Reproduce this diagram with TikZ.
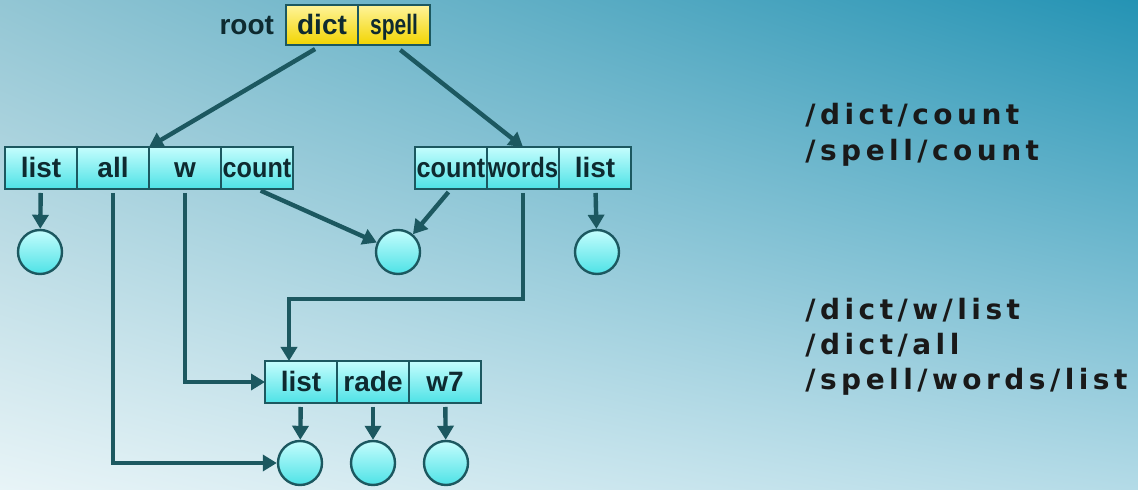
\documentclass[tikz,border=0pt]{standalone}
\usepackage{fontspec}
\usepackage{graphicx}
\setmainfont{Liberation Sans}
\newfontfamily\pathfont[LetterSpace=16]{DejaVu Sans}
\usetikzlibrary{positioning,arrows.meta,shadings}
\definecolor{ink}{HTML}{0E2A30}
\definecolor{edge}{HTML}{1C5860}
\definecolor{cyanhi}{HTML}{C4FDFD}
\definecolor{cyanlo}{HTML}{4EE2E6}
\definecolor{yelhi}{HTML}{FFF49A}
\definecolor{yello}{HTML}{F2D400}
\definecolor{bgul}{HTML}{93C6D4}
\definecolor{bgur}{HTML}{2493B4}
\definecolor{bgll}{HTML}{E8F4F7}
\definecolor{bglr}{HTML}{B4DBE7}
\newcommand{\narrow}[2]{\scalebox{#1}[1]{#2}}
\tikzset{
label/.style={text=ink,inner sep=0pt,outer sep=0pt,text height=11pt,text depth=1pt,
  font=\fontsize{14}{14}\selectfont\bfseries},
cell/.style={label,draw=edge,line width=1.2pt,minimum width=36pt,minimum height=21pt,
  top color=cyanhi,bottom color=cyanlo},
keycell/.style={cell,top color=yelhi,bottom color=yello,minimum height=20pt},
leaf/.style={circle,draw=edge,line width=1.2pt,minimum size=22pt,inner sep=0pt,top color=cyanhi,bottom color=cyanlo},
arr/.style={edge,line width=2.2pt,-{Triangle[width=8pt,length=7pt]},shorten <=2pt},
pathtxt/.style={anchor=base west,inner sep=0pt,text=black!90,font=\pathfont\fontsize{14}{14}\selectfont\bfseries}
}
\begin{document}
\begin{tikzpicture}[x=0.5pt,y=-0.5pt]
\shade[upper left=bgul,upper right=bgur,lower left=bgll,lower right=bglr] (0,0) rectangle (1138,490);
\useasboundingbox (0,0) rectangle (1138,490);
% root
\node[keycell] (dict) at (322,25) {dict};
\node[keycell,right=0pt of dict] (spell) {\narrow{0.75}{spell}};
\node[label,left=6pt of dict] (root) {root};
% dict
\node[cell] (dlist) at (41,168) {list};
\node[cell,right=0pt of dlist] (dall) {all};
\node[cell,right=0pt of dall] (dw) {w};
\node[cell,right=0pt of dw] (dcount) {\narrow{0.9}{count}};
% spell
\node[cell] (scount) at (451,168) {\narrow{0.9}{count}};
\node[cell,right=0pt of scount] (swords) {\narrow{0.85}{words}};
\node[cell,right=0pt of swords] (slist) {list};
% w
\node[cell] (wlist) at (301,382) {list};
\node[cell,right=0pt of wlist] (wrade) {rade};
\node[cell,right=0pt of wrade] (ww7) {w7};
% leaves
\node[leaf] (o1) at (40,252) {};
\node[leaf] (o2) at (398,252) {};
\node[leaf] (o3) at (597,252) {};
\node[leaf] (o4) at (300,463) {};
\node[leaf] (o5) at (373,463) {};
\node[leaf] (o6) at (446,463) {};
\draw[arr,shorten <=4pt] (dict.south) -- (dall.north east);
\draw[arr,shorten <=4pt] (spell.south) -- (swords.north);
\draw[arr] (dlist) -- (o1);
\draw[arr] (dcount.south) -- (o2);
\draw[arr] (scount.south) -- (o2);
\draw[arr] (slist) -- (o3);
\draw[arr] (swords.south) -- ++(0,110) -| ([xshift=-6pt]wlist.north);
\draw[arr] (dw.south) |- (wlist.west);
\draw[arr] (dall.south) |- (o4.west);
\draw[arr] (wlist) -- (o4);
\draw[arr] (wrade) -- (o5);
\draw[arr] (ww7) -- (o6);
% paths
\node[pathtxt] (p1) at (805,125) {/dict/count};
\node[pathtxt] (p2) at (805,161) {/spell/count};
\node[pathtxt] (p3) at (805,320) {/dict/w/list};
\node[pathtxt] (p4) at (805,355) {/dict/all};
\node[pathtxt] (p5) at (805,390) {/spell/words/list};
\end{tikzpicture}
\end{document}
